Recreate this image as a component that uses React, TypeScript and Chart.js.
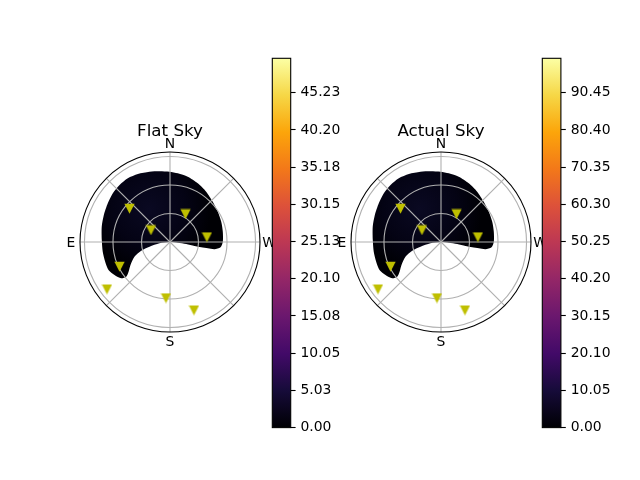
import React, { useEffect, useRef } from 'react';
import { Chart, registerables } from 'chart.js';

Chart.register(...registerables);

const FONT = "'DejaVu Sans', sans-serif";

// ---------- data ----------
const PANEL_TITLES = ['Flat Sky', 'Actual Sky'];
const DIRECTION_LABELS = ['N', 'E', 'S', 'W'];
const DIRECTION_AZ = [0, 90, 180, 270];
const GRID_RINGS = [30, 60, 90];
const GRID_SPOKES = [0, 45, 90, 135, 180, 225, 270, 315];
const R_MAX = 94.7;

// visible-sky mask outline (azimuth deg, zenith deg)
const MASK_AZ = [0.4, 8.4, 16.3, 25.3, 33.5, 41.5, 49.6, 58.1, 67.8, 77.4, 88.3, 98.2, 106.9, 114.5, 120.7, 126.6, 128.4, 125.6, 120.2, 112.5, 106.8, 102.9, 97, 180, 264.9, 263, 260.7, 260.4, 260.5, 260.7, 264, 270.3, 281, 291.6, 302.4, 313.3, 324.3, 334.7, 344.8, 353.5];
const MASK_ZEN = [74.0, 75.2, 77.0, 79.1, 80.4, 80.1, 79.0, 77.1, 75.2, 73.6, 71.8, 71.5, 71.3, 71.1, 67.9, 64.0, 58.8, 53.6, 48.1, 40.5, 31.6, 22.1, 11.2, 0, 8.3, 17.2, 26.1, 33.3, 40.4, 47.4, 53.5, 55.6, 56.6, 58.0, 59.6, 61.8, 65.2, 68.3, 71.2, 72.8];

// satellites (azimuth deg, zenith deg)
const SAT_AZ = [50.4, 331, 57.7, 277.7, 115.9, 126.8, 175.9, 199.4];
const SAT_ZEN = [55.3, 33.7, 23.7, 39.2, 59.0, 82.8, 59.1, 76.0];

const CB1_TICKS = [0, 5.025, 10.05, 15.075, 20.1, 25.125, 30.15, 35.175, 40.2, 45.225];
const CB1_LABELS = ['0.00', '5.03', '10.05', '15.08', '20.10', '25.13', '30.15', '35.18', '40.20', '45.23'];
const CB1_MAX = 49.87;

const CB2_TICKS = [0, 10.05, 20.1, 30.15, 40.2, 50.25, 60.3, 70.35, 80.4, 90.45];
const CB2_LABELS = ['0.00', '10.05', '20.10', '30.15', '40.20', '50.25', '60.30', '70.35', '80.40', '90.45'];
const CB2_MAX = 99.74;

const INFERNO = ['#000004', '#160b39', '#420a68', '#6a176e', '#932667', '#bc3754', '#dd513a', '#f37819', '#fca50a', '#f6d746', '#fcffa4'];

// ---------- helpers ----------
function toXY(az: number, zen: number) {
  const a = (az * Math.PI) / 180;
  return { x: -zen * Math.sin(a), y: zen * Math.cos(a) };
}

function makeTriangle() {
  const c = document.createElement('canvas');
  c.width = 11;
  c.height = 11;
  const g = c.getContext('2d')!;
  g.fillStyle = '#bfbf00';
  g.beginPath();
  g.moveTo(0.4, 0.8);
  g.lineTo(10.6, 0.8);
  g.lineTo(5.5, 10.8);
  g.closePath();
  g.fill();
  return c;
}

function drawGrid(chart: any) {
  const { ctx, scales } = chart;
  const x = scales.x, y = scales.y;
  const cx = x.getPixelForValue(0), cy = y.getPixelForValue(0);
  const k = x.getPixelForValue(1) - cx;
  ctx.save();
  ctx.strokeStyle = '#b0b0b0';
  ctx.lineWidth = 1.1;
  GRID_RINGS.forEach((r) => {
    ctx.beginPath();
    ctx.arc(cx, cy, r * k, 0, Math.PI * 2);
    ctx.stroke();
  });
  GRID_SPOKES.forEach((a) => {
    const p = toXY(a, R_MAX);
    ctx.beginPath();
    ctx.moveTo(cx, cy);
    ctx.lineTo(x.getPixelForValue(p.x), y.getPixelForValue(p.y));
    ctx.stroke();
  });
  ctx.restore();
}

const polarDeco = {
  id: 'polarDeco',
  afterDatasetDraw(chart: any, args: any) {
    if (args.index === 1) drawGrid(chart);
  },
  afterDraw(chart: any, _args: any, opts: any) {
    const { ctx, scales } = chart;
    const x = scales.x, y = scales.y;
    const cx = x.getPixelForValue(0), cy = y.getPixelForValue(0);
    const k = x.getPixelForValue(1) - cx;
    ctx.save();
    ctx.strokeStyle = '#000';
    ctx.lineWidth = 1.1;
    ctx.beginPath();
    ctx.arc(cx, cy, R_MAX * k, 0, Math.PI * 2);
    ctx.stroke();
    ctx.fillStyle = '#000';
    ctx.textAlign = 'center';
    ctx.textBaseline = 'alphabetic';
    ctx.font = `13.9px ${FONT}`;
    const R = R_MAX * k;
    DIRECTION_LABELS.forEach((lab, i) => {
      const az = DIRECTION_AZ[i];
      const a = (az * Math.PI) / 180;
      const rr = R + 9;
      const px = cx - rr * Math.sin(a);
      const py = cy - rr * Math.cos(a);
      ctx.fillText(lab, px, py + 5.1);
    });
    ctx.font = `16.7px ${FONT}`;
    ctx.fillText(opts.title, cx, cy - 106.5);
    ctx.restore();
  },
};

function PolarPanel({ cx, cy, title }: { cx: number; cy: number; title: string }) {
  const ref = useRef<HTMLCanvasElement>(null);
  const W = 220, H = 240, R = 90;
  useEffect(() => {
    const tri = makeTriangle();
    const padL = 110 - R, padT = 125 - R;
    const mask = MASK_AZ.map((a, i) => toXY(a, MASK_ZEN[i]));
    mask.push(mask[0]);
    const sats = SAT_AZ.map((a, i) => toXY(a, SAT_ZEN[i]));
    const chart = new Chart(ref.current!, {
      type: 'scatter',
      data: {
        datasets: [
          {
            label: 'sats',
            data: sats,
            pointStyle: tri as any,
            pointRadius: 5,
            showLine: false,
          } as any,
          {
            label: 'mask',
            data: mask,
            showLine: true,
            fill: 'shape',
            pointRadius: 0,
            borderWidth: 0,
            borderColor: 'rgba(0,0,0,0)',
            tension: 0.25,
            backgroundColor: (c: any) => {
              const ch = c.chart;
              if (!ch.chartArea || !ch.scales.x) return '#000004';
              const p = toXY(32, 41);
              const px = ch.scales.x.getPixelForValue(p.x);
              const py = ch.scales.y.getPixelForValue(p.y);
              const g = ch.ctx.createRadialGradient(px, py, 0, px, py, 62);
              g.addColorStop(0, '#0a0922');
              g.addColorStop(0.6, '#040314');
              g.addColorStop(1, '#000004');
              return g;
            },
          } as any,
        ],
      },
      options: {
        animation: false,
        responsive: false,
        layout: { padding: { left: padL, top: padT, right: W - padL - 2 * R, bottom: H - padT - 2 * R } },
        scales: {
          x: { type: 'linear', min: -R_MAX, max: R_MAX, display: false },
          y: { type: 'linear', min: -R_MAX, max: R_MAX, display: false },
        },
        plugins: {
          legend: { display: false },
          tooltip: { enabled: false },
          polarDeco: { title },
        } as any,
      },
      plugins: [polarDeco],
    });
    return () => chart.destroy();
  }, []);
  return (
    <canvas
      ref={ref}
      width={W}
      height={H}
      style={{ position: 'absolute', left: cx - 110, top: cy - 125, width: W, height: H }}
    />
  );
}

const cbFrame = {
  id: 'cbFrame',
  afterDraw(chart: any) {
    const a = chart.chartArea;
    const ctx = chart.ctx;
    ctx.save();
    ctx.strokeStyle = '#000';
    ctx.lineWidth = 1.1;
    ctx.strokeRect(a.left, a.top, a.right - a.left, a.bottom - a.top);
    ctx.restore();
  },
};

function ColorBar({ barLeft, barTop, barW, barH, max, ticks, labels }: any) {
  const ref = useRef<HTMLCanvasElement>(null);
  const W = 100, padL = 10, padT = 18;
  const H = Math.round(barH + padT + 24);
  useEffect(() => {
    const chart = new Chart(ref.current!, {
      type: 'bar',
      data: {
        labels: [''],
        datasets: [
          {
            data: [max],
            borderWidth: 0,
            barPercentage: 1,
            categoryPercentage: 1,
            backgroundColor: (c: any) => {
              const a = c.chart.chartArea;
              if (!a) return '#000';
              const g = c.chart.ctx.createLinearGradient(0, a.bottom, 0, a.top);
              INFERNO.forEach((col, i) => g.addColorStop(i / (INFERNO.length - 1), col));
              return g;
            },
          },
        ],
      },
      options: {
        animation: false,
        responsive: false,
        layout: { padding: { left: padL + (barLeft % 1), top: padT + (barTop % 1), right: 0, bottom: H - padT - (barTop % 1) - barH } },
        scales: {
          x: { display: false },
          y: {
            position: 'right',
            min: 0,
            max,
            afterBuildTicks: (axis: any) => {
              axis.ticks = ticks.map((v: number) => ({ value: v }));
            },
            afterFit: (scale: any) => {
              scale.width = W - padL - (barLeft % 1) - barW;
            },
            grid: { drawOnChartArea: false, drawTicks: true, tickLength: 4.9, tickColor: '#000', tickWidth: 1.1 },
            border: { display: false },
            ticks: {
              autoSkip: false,
              padding: 4.9,
              color: '#000',
              font: { size: 13.9, family: FONT },
              callback: (_v: any, i: number) => labels[i],
            },
          },
        },
        plugins: { legend: { display: false }, tooltip: { enabled: false } },
      },
      plugins: [cbFrame],
    });
    return () => chart.destroy();
  }, []);
  return (
    <canvas
      ref={ref}
      width={W}
      height={H}
      style={{ position: 'absolute', left: Math.floor(barLeft) - padL, top: Math.floor(barTop) - padT, width: W, height: H }}
    />
  );
}

export default function App() {
  return (
    <div
      style={{
        position: 'fixed',
        left: 0,
        top: 0,
        width: 640,
        height: 480,
        background: '#fff',
        overflow: 'hidden',
      }}
    >
      <PolarPanel cx={170} cy={242} title={PANEL_TITLES[0]} />
      <ColorBar barLeft={272.3} barTop={58.3} barW={18.4} barH={369.3} max={CB1_MAX} ticks={CB1_TICKS} labels={CB1_LABELS} />
      <PolarPanel cx={441} cy={242} title={PANEL_TITLES[1]} />
      <ColorBar barLeft={542.3} barTop={58.3} barW={18.6} barH={369.3} max={CB2_MAX} ticks={CB2_TICKS} labels={CB2_LABELS} />
    </div>
  );
}
